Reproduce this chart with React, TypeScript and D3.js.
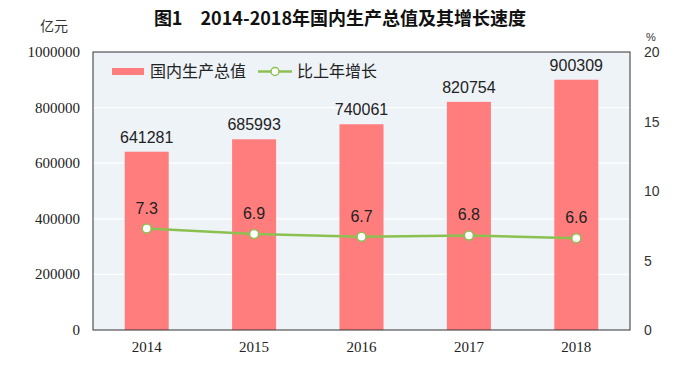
import React from 'react'
import * as d3 from 'd3'

const years = ['2014', '2015', '2016', '2017', '2018']
const gdp = [641281, 685993, 740061, 820754, 900309]
const growth = [7.3, 6.9, 6.7, 6.8, 6.6]
const leftTicks = [0, 200000, 400000, 600000, 800000, 1000000]
const rightTicks = [0, 5, 10, 15, 20]

const App = () => {
  const w = 680
  const h = 375
  const m = { left: 93, right: 630, top: 52, bottom: 330 }

  const x = d3.scaleBand().domain(years).range([m.left, m.right]).paddingInner(0.59).paddingOuter(0.295)
  const yL = d3.scaleLinear().domain([0, 1000000]).range([m.bottom, m.top])
  const yR = d3.scaleLinear().domain([0, 20]).range([m.bottom, m.top])

  const line = d3.line<number>()
    .x((d, i) => (x(years[i]) as number) + x.bandwidth() / 2)
    .y(d => yR(d))

  const serif = '"Liberation Serif", serif'
  const sans = '"Liberation Sans", Arial, sans-serif'
  const cjk = '"Noto Sans CJK SC", sans-serif'

  return (
    <svg width={w} height={h} style={{ display: 'block', margin: '-8px' }}>
      <rect x={0} y={0} width={w} height={h} fill="#fff" />
      <text x={340} y={25} textAnchor="middle" fontFamily={cjk} fontSize={18} fontWeight="bold" fill="#111">
        图1　2014-2018年国内生产总值及其增长速度
      </text>
      <text x={54} y={31} textAnchor="middle" fontFamily={cjk} fontSize={14} fill="#333">亿元</text>
      <text x={651} y={41} textAnchor="middle" fontFamily={sans} fontSize={11} fill="#333">%</text>

      <rect x={m.left} y={m.top} width={m.right - m.left} height={m.bottom - m.top} fill="#eef3f8" />
      {leftTicks.slice(1, -1).map(t => (
        <line key={t} x1={m.left} x2={m.right} y1={yL(t)} y2={yL(t)} stroke="#fff" strokeWidth={1.2} />
      ))}

      {leftTicks.map(t => (
        <text key={t} x={80} y={yL(t) + 5} textAnchor="end" fontFamily={serif} fontSize={15} fill="#222">
          {t}
        </text>
      ))}
      {rightTicks.map(t => (
        <text key={t} x={644} y={yR(t) + 5} textAnchor="start" fontFamily={sans} fontSize={14} fill="#333">
          {t}
        </text>
      ))}

      {gdp.map((v, i) => (
        <g key={years[i]}>
          <rect x={x(years[i])} y={yL(v)} width={x.bandwidth()} height={m.bottom - yL(v)} fill="#ff7d7d" />
          <text x={(x(years[i]) as number) + x.bandwidth() / 2} y={yL(v) - 9} textAnchor="middle"
            fontFamily={sans} fontSize={16} fill="#222">{v}</text>
        </g>
      ))}

      <path d={line(growth) || ''} fill="none" stroke="#8cc152" strokeWidth={2.5} />
      {growth.map((v, i) => {
        const cx = (x(years[i]) as number) + x.bandwidth() / 2
        return (
          <g key={years[i]}>
            <circle cx={cx} cy={yR(v)} r={4.5} fill="#fff" stroke="#8cc152" strokeWidth={1.5} />
            <text x={cx} y={yR(v) - 15} textAnchor="middle" fontFamily={sans} fontSize={16} fill="#222">{v}</text>
          </g>
        )
      })}

      <rect x={m.left} y={m.top} width={m.right - m.left} height={m.bottom - m.top} fill="none" stroke="#333" strokeWidth={1} />

      {years.map(yr => (
        <text key={yr} x={(x(yr) as number) + x.bandwidth() / 2} y={352} textAnchor="middle"
          fontFamily={serif} fontSize={15} fill="#222">{yr}</text>
      ))}

      <rect x={112} y={68} width={32} height={7} fill="#ff7d7d" />
      <text x={150} y={77} fontFamily={cjk} fontSize={16} fill="#222">国内生产总值</text>
      <line x1={258} x2={292} y1={71.5} y2={71.5} stroke="#8cc152" strokeWidth={2.5} />
      <circle cx={275} cy={71.5} r={4} fill="#fff" stroke="#8cc152" strokeWidth={1.5} />
      <text x={297} y={77} fontFamily={cjk} fontSize={16} fill="#222">比上年增长</text>
    </svg>
  )
}

export default App
